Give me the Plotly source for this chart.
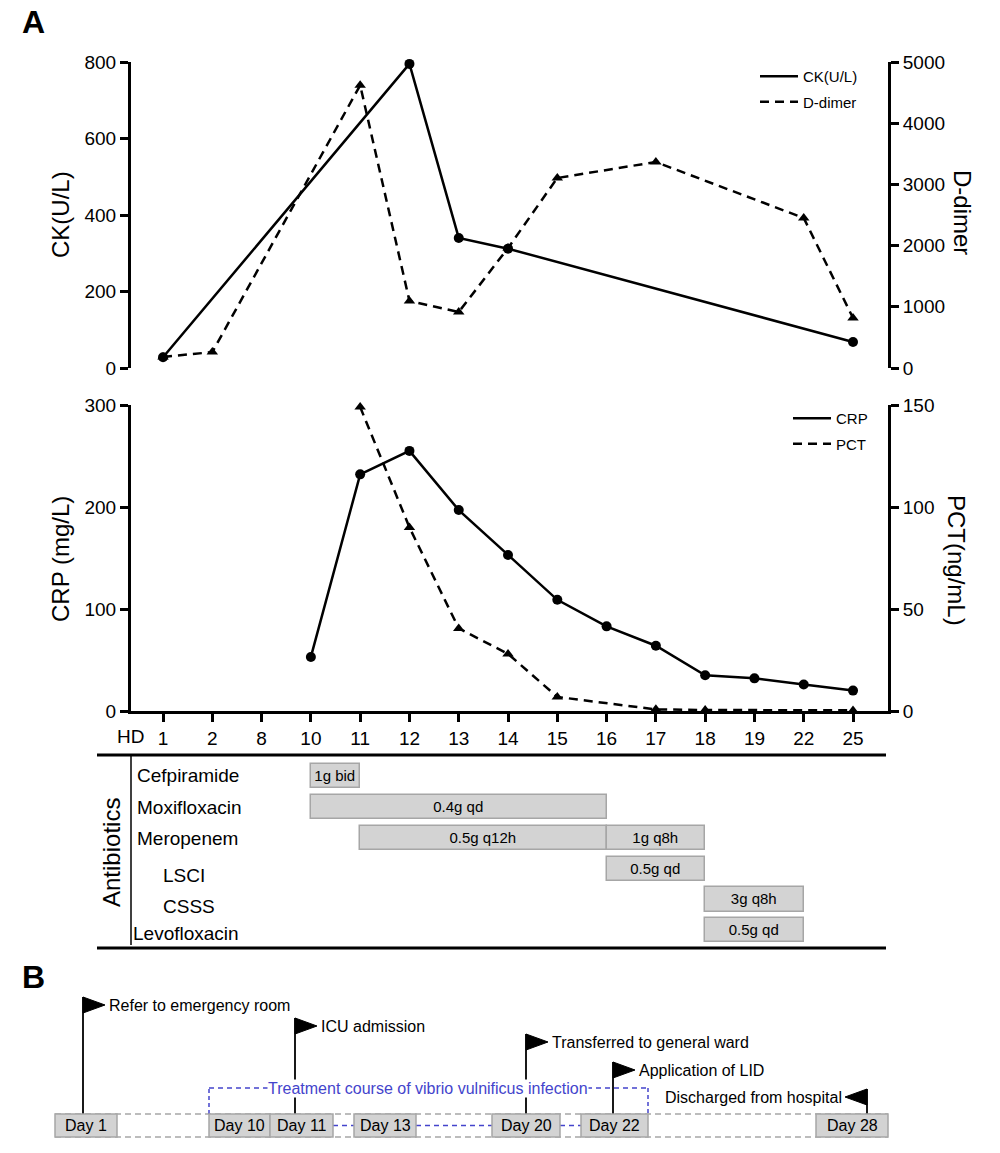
import plotly.graph_objects as go

W, H = 1000, 1153
FONT = "Liberation Sans, Arial, Helvetica, sans-serif"

# ---------------- data ----------------
hd_days = ["1", "2", "8", "10", "11", "12", "13", "14", "15", "16", "17", "18", "19", "22", "25"]
ck_values = [28, None, None, None, None, 795, 340, 312, None, None, None, None, None, None, 68]
ddimer_values = [180, 260, None, None, 4620, 1095, 915, 1960, 3105, None, 3366, None, None, 2451, 817]
crp_values = [None, None, None, 53, 232, 255, 197, 153, 109, 83, 64, 35, 32, 26, 20]
pct_values = [None, None, None, None, 149, 90, 40.5, 28, 6.9, None, 0.8, 0.5, None, None, 0.3]

ck_ticks = [0, 200, 400, 600, 800]
ddimer_ticks = [0, 1000, 2000, 3000, 4000, 5000]
crp_ticks = [0, 100, 200, 300]
pct_ticks = [0, 50, 100, 150]

abx_rows = ["Cefpiramide", "Moxifloxacin", "Meropenem", "LSCI", "CSSS", "Levofloxacin"]
abx_drug = ["Cefpiramide", "Moxifloxacin", "Meropenem", "Meropenem", "LSCI", "CSSS", "Levofloxacin"]
abx_start = ["10", "10", "11", "16", "16", "18", "18"]
abx_end = ["11", "16", "16", "18", "18", "22", "22"]
abx_dose = ["1g bid", "0.4g qd", "0.5g q12h", "1g q8h", "0.5g qd", "3g q8h", "0.5g qd"]

timeline_days = ["Day 1", "Day 10", "Day 11", "Day 13", "Day 20", "Day 22", "Day 28"]
event_days = ["Day 1", "Day 11", "Day 20", "Day 22", "Day 28"]
event_texts = ["Refer to emergency room", "ICU admission", "Transferred to general ward",
               "Application of LID", "Discharged from hospital"]
treatment_text = "Treatment course of vibrio vulnificus infection"
treatment_span = ["Day 10", "Day 22"]

# ---------------- layout (pixel geometry) ----------------
def X(p):
    return p / W

def Y(p):
    return 1 - p / H

PLOT_L, PLOT_R = 131, 888
TOP_T, TOP_B = 62, 368
BOT_T, BOT_B = 405, 711
TAB_T, TAB_B = 755, 948
XR = [-0.65, 14.71]

box_px = [(55, 117), (209, 270), (270, 333), (354, 416), (492, 560), (581, 648), (816, 888)]
BOX_T, BOX_B = 1114, 1137
pole_x = [83, 295, 526, 613, 867]
flag_top = [997, 1018, 1034, 1062, 1089]
flag_dir = [1, 1, 1, 1, -1]
FLAG_W, FLAG_H = 22, 16
BRACKET_Y = 1088

BLACK = "#000000"
BOX_FILL = "#d3d3d3"
BOX_LINE = "#a6a6a6"
BLUE = "#4444cc"

idx = {d: i for i, d in enumerate(hd_days)}
xi = list(range(len(hd_days)))

fig = go.Figure()

solid = dict(color=BLACK, width=2.5)
dashed = dict(color=BLACK, width=2.5, dash="9px,6px")

# ---- top panel ----
fig.add_trace(go.Scatter(x=xi, y=ddimer_values, mode="lines+markers", connectgaps=True,
                         line=dashed, marker=dict(symbol="triangle-up", size=10, color=BLACK),
                         xaxis="x", yaxis="y2", showlegend=False, cliponaxis=False))
fig.add_trace(go.Scatter(x=xi, y=ck_values, mode="lines+markers", connectgaps=True,
                         line=solid, marker=dict(symbol="circle", size=10, color=BLACK),
                         xaxis="x", yaxis="y", showlegend=False, cliponaxis=False))
fig.add_trace(go.Scatter(x=[None], y=[None], mode="lines", line=solid, name="CK(U/L)",
                         legendgroup="a", xaxis="x", yaxis="y", legend="legend"))
fig.add_trace(go.Scatter(x=[None], y=[None], mode="lines", line=dashed, name="D-dimer",
                         legendgroup="b", xaxis="x", yaxis="y", legend="legend"))

# ---- bottom panel ----
fig.add_trace(go.Scatter(x=xi, y=pct_values, mode="lines+markers", connectgaps=True,
                         line=dashed, marker=dict(symbol="triangle-up", size=10, color=BLACK),
                         xaxis="x2", yaxis="y4", showlegend=False, cliponaxis=False))
fig.add_trace(go.Scatter(x=xi, y=crp_values, mode="lines+markers", connectgaps=True,
                         line=solid, marker=dict(symbol="circle", size=10, color=BLACK),
                         xaxis="x2", yaxis="y3", showlegend=False, cliponaxis=False))
fig.add_trace(go.Scatter(x=[None], y=[None], mode="lines", line=solid, name="CRP",
                         legendgroup="c", xaxis="x2", yaxis="y3", legend="legend2"))
fig.add_trace(go.Scatter(x=[None], y=[None], mode="lines", line=dashed, name="PCT",
                         legendgroup="d", xaxis="x2", yaxis="y3", legend="legend2"))

# ---- antibiotics table ----
fig.add_trace(go.Bar(
    orientation="h",
    y=[abx_rows.index(d) for d in abx_drug],
    base=[idx[s] for s in abx_start],
    x=[idx[e] - idx[s] for s, e in zip(abx_start, abx_end)],
    text=abx_dose, textposition="inside", insidetextanchor="middle",
    textangle=0, constraintext="none",
    textfont=dict(size=15, color=BLACK, family=FONT),
    marker=dict(color=BOX_FILL, line=dict(color=BOX_LINE, width=1.5)),
    width=0.78, xaxis="x3", yaxis="y5", showlegend=False, hoverinfo="skip"))

yax = dict(showline=True, linewidth=3, linecolor=BLACK, ticks="outside", ticklen=8,
           tickwidth=2.5, tickcolor=BLACK, showgrid=False, zeroline=False, automargin=False,
           tickfont=dict(size=19, color=BLACK, family=FONT))

legend_common = dict(xanchor="left", yanchor="top", bgcolor="rgba(0,0,0,0)",
                     itemwidth=38, tracegroupgap=3,
                     font=dict(size=15, family=FONT, color=BLACK))

fig.update_layout(
    width=W, height=H, autosize=False, margin=dict(l=0, r=0, t=0, b=0, pad=0),
    paper_bgcolor="white", plot_bgcolor="rgba(0,0,0,0)",
    font=dict(family=FONT, color=BLACK),
    xaxis=dict(domain=[X(PLOT_L), X(PLOT_R)], range=XR, visible=False, anchor="y", automargin=False),
    yaxis=dict(domain=[Y(TOP_B), Y(TOP_T)], range=[0, 800], tickvals=ck_ticks, anchor="x", **yax),
    yaxis2=dict(domain=[Y(TOP_B), Y(TOP_T)], range=[0, 5000], tickvals=ddimer_ticks,
                overlaying="y", side="right", anchor="x", **yax),
    xaxis2=dict(domain=[X(PLOT_L), X(PLOT_R)], range=XR, anchor="y3", automargin=False,
                tickvals=xi, ticktext=hd_days, showline=True, linewidth=3, linecolor=BLACK,
                ticks="outside", ticklen=8, tickwidth=2.5, tickcolor=BLACK,
                showgrid=False, zeroline=False,
                tickfont=dict(size=19, color=BLACK, family=FONT)),
    yaxis3=dict(domain=[Y(BOT_B), Y(BOT_T)], range=[0, 300], tickvals=crp_ticks, anchor="x2", **yax),
    yaxis4=dict(domain=[Y(BOT_B), Y(BOT_T)], range=[0, 150], tickvals=pct_ticks,
                overlaying="y3", side="right", anchor="x2", **yax),
    xaxis3=dict(domain=[X(PLOT_L), X(PLOT_R)], range=XR, visible=False, anchor="y5", automargin=False),
    yaxis5=dict(domain=[Y(TAB_B), Y(TAB_T)], range=[5.57, -0.68], visible=False, anchor="x3",
                automargin=False),
    legend=dict(x=X(755), y=Y(60), **legend_common),
    legend2=dict(x=X(788), y=Y(402), **legend_common),
    bargap=0,
)

shapes = []
ann = []

def text(x, y, s, size, xanchor="center", angle=0, color=BLACK, bold=False, bg=None):
    d = dict(x=X(x), y=Y(y), xref="paper", yref="paper", text=("<b>%s</b>" % s) if bold else s,
             showarrow=False, xanchor=xanchor, yanchor="middle", textangle=angle,
             font=dict(size=size, color=color, family=FONT))
    if bg:
        d["bgcolor"] = bg
        d["borderpad"] = 0
    ann.append(d)

def line(x0, y0, x1, y1, color=BLACK, width=1.5, dash=None):
    ln = dict(color=color, width=width)
    if dash:
        ln["dash"] = dash
    shapes.append(dict(type="line", xref="paper", yref="paper", x0=X(x0), y0=Y(y0),
                       x1=X(x1), y1=Y(y1), line=ln))

# panel labels & axis titles
text(33, 22, "A", 32, bold=True)
text(33, 977, "B", 32, bold=True)
text(61, 215, "CK(U/L)", 24, angle=-90)
text(962, 212, "D-dimer", 24, angle=90)
text(60, 559, "CRP (mg/L)", 24, angle=-90)
text(957, 560, "PCT(ng/mL)", 24, angle=90)
text(130, 736, "HD", 19)

# antibiotics table frame
line(97, TAB_T, 886, TAB_T, width=3)
line(97, TAB_B, 886, TAB_B, width=3)
line(131, TAB_T, 131, TAB_B - 3, width=1.5)
text(111, 853, "Antibiotics", 24, angle=-90)
row_label_x = [135, 135, 135, 161, 161, 131]
row_label_y = [776, 807, 838, 875, 906, 933]
for name, lx, ly in zip(abx_rows, row_label_x, row_label_y):
    text(lx, ly, name, 19, xanchor="left")

# ---- panel B timeline ----
gray_dash = "6px,4px"
line(box_px[0][0], BOX_T, box_px[-1][1], BOX_T, color=BOX_LINE, width=1.5, dash=gray_dash)
line(box_px[0][0], BOX_B, box_px[-1][1], BOX_B, color=BOX_LINE, width=1.5, dash=gray_dash)

i0 = timeline_days.index(treatment_span[0])
i1 = timeline_days.index(treatment_span[1])
mid = (BOX_T + BOX_B) / 2
for k in range(i0, i1):
    a, b = box_px[k][1], box_px[k + 1][0]
    if b - a > 2:
        line(a, mid, b, mid, color=BLUE, width=1.5, dash="5px,4px")

bx0 = box_px[i0][0]
bx1 = box_px[i1][1]
line(bx0, BOX_T, bx0, BRACKET_Y, color=BLUE, width=1.5, dash="4px,3px")
line(bx0, BRACKET_Y, bx1, BRACKET_Y, color=BLUE, width=1.5, dash="5px,4px")
line(bx1, BRACKET_Y, bx1, BOX_T, color=BLUE, width=1.5, dash="4px,3px")

# flags
for day, label, px_, top, dr in zip(event_days, event_texts, pole_x, flag_top, flag_dir):
    line(px_, BOX_T, px_, top, width=1.8)
    path = "M %f,%f L %f,%f L %f,%f Z" % (X(px_), Y(top), X(px_ + dr * FLAG_W), Y(top + FLAG_H / 2),
                                           X(px_), Y(top + FLAG_H))
    shapes.append(dict(type="path", xref="paper", yref="paper", path=path,
                       fillcolor=BLACK, line=dict(color=BLACK, width=1)))
    if dr > 0:
        text(px_ + FLAG_W + 2, top + FLAG_H / 2, label, 16, xanchor="left")
    else:
        text(px_ - FLAG_W - 1, top + FLAG_H / 2, label, 16, xanchor="right")

text((bx0 + bx1) / 2 - 1, BRACKET_Y, treatment_text, 16, color=BLUE, bg="white")

# day boxes
for day, (a, b) in zip(timeline_days, box_px):
    shapes.append(dict(type="rect", xref="paper", yref="paper", x0=X(a), x1=X(b),
                       y0=Y(BOX_B), y1=Y(BOX_T), fillcolor=BOX_FILL,
                       line=dict(color=BOX_LINE, width=1.5)))
    text((a + b) / 2, mid, day, 16)

fig.update_layout(shapes=shapes, annotations=ann)

fig.write_html("out.html", config={"displayModeBar": False},
               post_script="document.body.style.margin='0';document.body.style.overflow='hidden';")
